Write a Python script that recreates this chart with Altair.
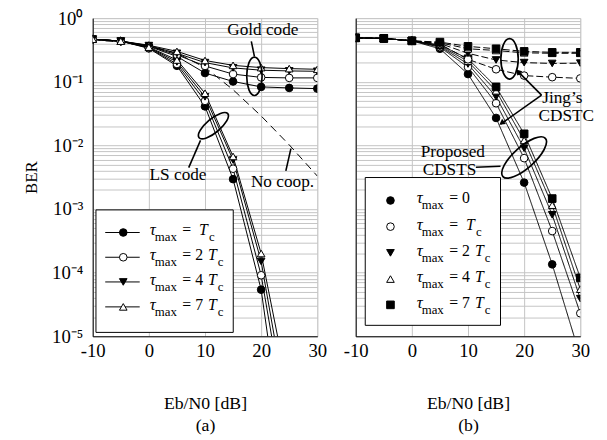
import altair as alt
import pandas as pd

FONT = "Liberation Serif"
GRID = "#c4c4c4"
W, H = 228, 323

# ---------------- data ----------------
snr = [-10, -5, 0, 5, 10, 15, 20, 25, 30]

# (a) Gold code
gold_Tc = [0.467, 0.435, 0.360, 0.250, 0.137, 0.101, 0.083, 0.080, 0.078]
gold_2Tc = [0.467, 0.435, 0.365, 0.265, 0.177, 0.132, 0.117, 0.115, 0.115]
gold_4Tc = [0.467, 0.435, 0.370, 0.280, 0.200, 0.165, 0.152, 0.148, 0.146]
gold_7Tc = [0.467, 0.435, 0.375, 0.300, 0.216, 0.181, 0.167, 0.161, 0.157]
# (a) LS code (curves continue below 1e-5 after 20 dB)
ls_snr = [-10, -5, 0, 5, 10, 15, 20, 25]
ls_Tc = [0.467, 0.435, 0.335, 0.178, 0.041, 0.00295, 5.4e-5, 4.1e-8]
ls_2Tc = [0.467, 0.435, 0.340, 0.190, 0.050, 0.0043, 9.1e-5, 2.5e-7]
ls_4Tc = [0.467, 0.435, 0.345, 0.205, 0.058, 0.0059, 1.5e-4, 4.6e-7]
ls_7Tc = [0.467, 0.435, 0.350, 0.220, 0.066, 0.0067, 2.0e-4, 1.2e-6]
ls_last_marker = 20
# (a) no cooperation
nocoop = [0.456, 0.420, 0.360, 0.280, 0.168, 0.075, 0.029, 0.0102, 0.0033]

# (b) Proposed CDSTS
prop_0 = [0.49, 0.48, 0.44, 0.33, 0.132, 0.027, 0.0026, 1.35e-4, 4.8e-6]
prop_Tc = [0.49, 0.48, 0.44, 0.35, 0.170, 0.046, 0.0063, 4.5e-4, 2.3e-5]
prop_2Tc = [0.49, 0.48, 0.44, 0.36, 0.190, 0.058, 0.0090, 8.1e-4, 3.9e-5]
prop_4Tc = [0.49, 0.48, 0.44, 0.37, 0.210, 0.072, 0.0120, 1.15e-3, 5.5e-5]
prop_7Tc = [0.49, 0.48, 0.44, 0.38, 0.230, 0.083, 0.0152, 1.46e-3, 8.3e-5]
# (b) Jing's CDSTC
jing_Tc = [0.49, 0.48, 0.44, 0.39, 0.225, 0.157, 0.125, 0.118, 0.113]
jing_2Tc = [0.49, 0.48, 0.44, 0.40, 0.280, 0.220, 0.200, 0.194, 0.196]
jing_4Tc = [0.49, 0.48, 0.44, 0.41, 0.330, 0.310, 0.285, 0.280, 0.280]
jing_7Tc = [0.49, 0.48, 0.44, 0.42, 0.360, 0.330, 0.300, 0.290, 0.290]

legend_a_nums = ["", "2", "4", "7"]
legend_b_nums = ["0", "", "2", "4", "7"]

# marker styles
STYLE_A = {"Tc": ("circle", "black"), "2Tc": ("circle", "white"),
           "4Tc": ("triangle-down", "black"), "7Tc": ("triangle-up", "white")}
STYLE_B = {"0": ("circle", "black"), "Tc": ("circle", "white"),
           "2Tc": ("triangle-down", "black"), "4Tc": ("triangle-up", "white"),
           "7Tc": ("square", "black")}


def build(xs, ys, series, tau, style, group="", last_marker=100):
    shp, fil = style[tau]
    return pd.DataFrame({"x": xs, "ber": ys, "series": series, "group": group,
                         "shape": shp, "fill": fil,
                         "mark": [x <= last_marker for x in xs]})


df_a = pd.concat([
    build(snr, gold_Tc, "g1", "Tc", STYLE_A), build(snr, gold_2Tc, "g2", "2Tc", STYLE_A),
    build(snr, gold_4Tc, "g4", "4Tc", STYLE_A), build(snr, gold_7Tc, "g7", "7Tc", STYLE_A),
    build(ls_snr, ls_Tc, "l1", "Tc", STYLE_A, last_marker=ls_last_marker),
    build(ls_snr, ls_2Tc, "l2", "2Tc", STYLE_A, last_marker=ls_last_marker),
    build(ls_snr, ls_4Tc, "l4", "4Tc", STYLE_A, last_marker=ls_last_marker),
    build(ls_snr, ls_7Tc, "l7", "7Tc", STYLE_A, last_marker=ls_last_marker),
], ignore_index=True)
df_nocoop = pd.DataFrame({"x": snr, "ber": nocoop})

df_b = pd.concat([
    build(snr, prop_0, "p0", "0", STYLE_B, "prop"), build(snr, prop_Tc, "p1", "Tc", STYLE_B, "prop"),
    build(snr, prop_2Tc, "p2", "2Tc", STYLE_B, "prop"), build(snr, prop_4Tc, "p4", "4Tc", STYLE_B, "prop"),
    build(snr, prop_7Tc, "p7", "7Tc", STYLE_B, "prop"),
    build(snr, jing_Tc, "j1", "Tc", STYLE_B, "jing"), build(snr, jing_2Tc, "j2", "2Tc", STYLE_B, "jing"),
    build(snr, jing_4Tc, "j4", "4Tc", STYLE_B, "jing"), build(snr, jing_7Tc, "j7", "7Tc", STYLE_B, "jing"),
], ignore_index=True)

# ---------------- axes ----------------
YVALS = [1.0] + [k * 10.0 ** (-e) for e in range(1, 6) for k in range(9, 0, -1)]
YLAB = ("abs(log(datum.value)/LN10 - round(log(datum.value)/LN10)) < 0.001 ? "
        "['10⁰','10⁻¹','10⁻²','10⁻³','10⁻⁴','10⁻⁵'][round(-log(datum.value)/LN10)] : ''")


def xenc(field, panel):
    return alt.X(f"{field}:Q",
                 scale=alt.Scale(domain=[-10, 30], nice=False, zero=False),
                 axis=alt.Axis(values=[-10, 0, 10, 20, 30], labelExpr="'' + datum.value",
                               labelFlush=False, labelOverlap=False,
                               title=["Eb/N0 [dB]", f"({panel})"], grid=True, gridColor=GRID,
                               ticks=False, domainColor="black", labelFont=FONT, labelFontSize=19,
                               labelColor="black", labelPadding=6, titleFont=FONT,
                               titleFontSize=18, titleFontWeight="normal", titleColor="black",
                               titlePadding=34, titleLineHeight=23))


def yenc(field, panel):
    if panel == "a":
        ax = alt.Axis(values=YVALS, labelExpr=YLAB, grid=True, gridColor=GRID, ticks=False,
                      labelFlush=False, labelOverlap=False,
                      domainColor="black", labelFont=FONT, labelFontSize=19, labelColor="black",
                      labelPadding=10, title="BER", titleFont=FONT, titleFontSize=17,
                      titleFontWeight="normal", titleColor="black", titlePadding=11)
    else:
        ax = alt.Axis(values=YVALS, labels=False, grid=True, gridColor=GRID, ticks=False,
                      domainColor="black", title=None)
    return alt.Y(f"{field}:Q", scale=alt.Scale(type="log", domain=[1e-5, 1], nice=False), axis=ax)


def ellipse(x, ber, a, ratio, angle, panel, sw=1.7):
    path = f"M-1,0A1,{ratio},0,1,1,1,0A1,{ratio},0,1,1,-1,0Z"
    return alt.Chart(pd.DataFrame({"ex": [x], "ey": [ber]})).mark_point(
        shape=path, size=(2 * a) ** 2, angle=angle, filled=False, stroke="black",
        strokeWidth=sw, opacity=1).encode(x=xenc("ex", panel), y=yenc("ey", panel))


def segs(x1, y1, x2, y2, panel, sw=1.6):
    return alt.Chart(pd.DataFrame({"sx": x1, "sy": y1, "sx2": x2, "sy2": y2})).mark_rule(
        color="black", strokeWidth=sw).encode(x=xenc("sx", panel), x2="sx2",
                                              y=yenc("sy", panel), y2="sy2")


def label(texts, xs, ys, panel, size=17.5, align="center"):
    return alt.Chart(pd.DataFrame({"t": texts, "tx": xs, "ty": ys})).mark_text(
        font=FONT, fontSize=size, align=align, baseline="middle", color="black").encode(
        x=xenc("tx", panel), y=yenc("ty", panel), text="t:N")


def legend(panel, nums, row_logs, box, text_x, marker_x, line_span, style, taus):
    df = pd.DataFrame({
        "ly": [10 ** v for v in row_logs],
        "eq": ["= " + n if n else "=" for n in nums],
        "kind": ["none" if n == "0" else ("num" if n else "plain") for n in nums],
        "shape": [style[t][0] for t in taus], "fill": [style[t][1] for t in taus],
        "lx": text_x, "mx": marker_x,
    })
    bx = pd.DataFrame({"bx": [box[0]], "bx2": [box[1]], "by": [10 ** box[2]], "by2": [10 ** box[3]]})
    layers = [alt.Chart(bx).mark_rect(fill="white", stroke="black", strokeWidth=1).encode(
        x=xenc("bx", panel), x2="bx2", y=yenc("by", panel), y2="by2")]
    if line_span:
        df["l1"], df["l2"] = line_span
        layers.append(alt.Chart(df).mark_rule(color="black", strokeWidth=1).encode(
            x=xenc("l1", panel), x2="l2", y=yenc("ly", panel)))
    layers.append(alt.Chart(df).mark_point(filled=True, stroke="black", strokeWidth=1, size=60,
                                           opacity=1).encode(
        x=xenc("mx", panel), y=yenc("ly", panel),
        shape=alt.Shape("shape:N", scale=None), fill=alt.Fill("fill:N", scale=None)))
    base = alt.Chart(df).encode(x=xenc("lx", panel), y=yenc("ly", panel))
    tk = dict(font=FONT, align="left", baseline="middle", color="black")
    layers += [
        base.mark_text(text="τ", fontSize=17, fontStyle="italic", dx=0, dy=-2, **tk),
        base.mark_text(text="max", fontSize=13, dx=5, dy=5, **tk),
        base.mark_text(fontSize=16, dx=33, dy=-2, **tk).encode(text="eq:N"),
        base.transform_filter("datum.kind == 'plain'").mark_text(
            text="T", fontSize=16, fontStyle="italic", dx=50, dy=-2, **tk),
        base.transform_filter("datum.kind == 'plain'").mark_text(
            text="c", fontSize=13, dx=60, dy=5, **tk),
        base.transform_filter("datum.kind == 'num'").mark_text(
            text="T", fontSize=16, fontStyle="italic", dx=59, dy=-2, **tk),
        base.transform_filter("datum.kind == 'num'").mark_text(
            text="c", fontSize=13, dx=69, dy=5, **tk),
    ]
    return layers


# ---------------- panel (a) ----------------
lines_a = alt.Chart(df_a).mark_line(color="black", strokeWidth=1, clip=True).encode(
    x=xenc("x", "a"), y=yenc("ber", "a"), detail="series:N")
nocoop_line = alt.Chart(df_nocoop).mark_line(color="black", strokeWidth=1, strokeDash=[8, 5],
                                             clip=True).encode(x=xenc("x", "a"), y=yenc("ber", "a"))
pts_a = alt.Chart(df_a).transform_filter("datum.mark").mark_point(
    filled=True, stroke="black", strokeWidth=1, size=60, opacity=1, clip=True).encode(
    x=xenc("x", "a"), y=yenc("ber", "a"),
    shape=alt.Shape("shape:N", scale=None), fill=alt.Fill("fill:N", scale=None))

ann_a = [
    label(["Gold code", "LS code", "No coop."], [20.3, 5.2, 23.8],
          [0.646, 0.00339, 0.00269], "a"),
    ellipse(18.8, 0.122, 19.5, 0.4, 90, "a"),
    ellipse(11.5, 0.0204, 19, 0.37, 320, "a"),
    segs([18.8, 9.2, 25.3], [0.25, 0.012, 0.0089], [18.25, 7.1, 24.4], [0.43, 0.00447, 0.00398], "a"),
]

leg_a = legend("a", legend_a_nums, [-3.369, -3.758, -4.146, -4.538],
               (-9.42, 15.03, -3.014, -4.939), 0.18, -4.56, (-7.77, -1.63),
               STYLE_A, ["Tc", "2Tc", "4Tc", "7Tc"])

panel_a = alt.layer(nocoop_line, lines_a, pts_a, *ann_a, *leg_a).properties(width=W, height=H)

# ---------------- panel (b) ----------------
lines_b = alt.Chart(df_b).mark_line(color="black", strokeWidth=1, clip=True).encode(
    x=xenc("x", "b"), y=yenc("ber", "b"), detail="series:N",
    strokeDash=alt.StrokeDash("group:N", scale=alt.Scale(domain=["prop", "jing"],
                                                         range=[[1, 0], [7, 3]]), legend=None))
pts_b = alt.Chart(df_b).mark_point(
    filled=True, stroke="black", strokeWidth=1, size=60, opacity=1, clip=True).encode(
    x=xenc("x", "b"), y=yenc("ber", "b"),
    shape=alt.Shape("shape:N", scale=None), fill=alt.Fill("fill:N", scale=None))

arrow_heads = alt.Chart(pd.DataFrame({"hx": [18.9], "hy": [0.145]})).mark_point(
    shape="triangle-up", angle=316, filled=True, color="black", size=45, opacity=1).encode(
    x=xenc("hx", "b"), y=yenc("hy", "b"))
arrow_heads2 = alt.Chart(pd.DataFrame({"hx": [16.0], "hy": [0.0225]})).mark_point(
    shape="triangle-up", angle=234, filled=True, color="black", size=45, opacity=1).encode(
    x=xenc("hx", "b"), y=yenc("hy", "b"))

ann_b = [
    label(["Jing’s", "CDSTC", "Proposed", "CDSTS"], [26.8, 27.5, 7.3, 6.7],
          [0.0562, 0.0288, 0.00776, 0.00407], "b"),
    ellipse(17.4, 0.229, 20.5, 0.43, 90, "b"),
    ellipse(20.0, 0.00646, 29, 0.37, 318, "b"),
    segs([23.1, 23.1, 11.4], [0.0617, 0.0617, 0.00454], [18.8, 15.8, 15.8],
         [0.148, 0.0216, 0.0047], "b"),
    arrow_heads, arrow_heads2,
]

leg_b = legend("b", legend_b_nums, [-2.866, -3.277, -3.689, -4.101, -4.506],
               (-8.30, 15.79, -2.505, -4.828), 0.88, -3.81, None,
               STYLE_B, ["0", "Tc", "2Tc", "4Tc", "7Tc"])

panel_b = alt.layer(lines_b, pts_b, *ann_b, *leg_b).properties(width=W, height=H)

chart = alt.hconcat(panel_a, panel_b, spacing=15).properties(
    padding={"left": 14, "top": -3, "right": 4, "bottom": 0}
).configure_view(stroke="black", strokeWidth=1).configure(background="white")

chart.save("out.html", embed_options={"renderer": "svg", "actions": False})
